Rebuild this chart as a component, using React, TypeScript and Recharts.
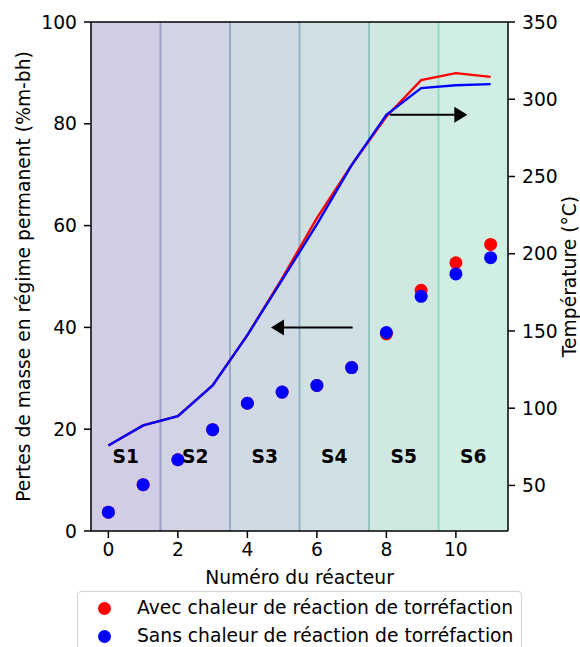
import React from "react";
import {
  ComposedChart,
  Line,
  Scatter,
  XAxis,
  YAxis,
  ReferenceArea,
  ReferenceLine,
  ReferenceDot,
} from "recharts";

// reactor numbers and measured values
const reactors = [0, 1, 2, 3, 4, 5, 6, 7, 8, 9, 10, 11];
const massWith = [3.7, 9.1, 14.0, 19.9, 25.1, 27.3, 28.6, 32.1, 38.7, 47.3, 52.7, 56.3];
const massWithout = [3.7, 9.1, 14.0, 19.9, 25.1, 27.3, 28.6, 32.1, 39.0, 46.1, 50.5, 53.7];
const tempWith = [75.9, 88.9, 94.9, 114.8, 147.3, 184, 223, 257.4, 288.8, 312.4, 316.9, 314.5];
const tempWithout = [75.9, 88.9, 94.9, 114.8, 147.3, 183, 219, 257.4, 289.9, 307.2, 309.1, 309.8];

const seriesNames = [
  "Avec chaleur de réaction de torréfaction",
  "Sans chaleur de réaction de torréfaction",
];
const seriesColors = ["#ff0000", "#0000ff"];

// stages (bands) along the reactor axis
const stageNames = ["S1", "S2", "S3", "S4", "S5", "S6"];
const stageEdges = [-0.5, 1.5, 3.5, 5.5, 7.5, 9.5, 11.5];
const stageFills = ["#d1cde4", "#d0d4e5", "#d0dae4", "#d0e1e3", "#d0e8e2", "#d0efe2"];
const stageEdgeColors = ["#9c9dc9", "#98a9c6", "#95b2c4", "#94c4c0", "#93d9c1"];
const stageLabelY = 14.65;

const xTicks = [0, 2, 4, 6, 8, 10];
const massTicks = [0, 20, 40, 60, 80, 100];
const tempTicks = [50, 100, 150, 200, 250, 300, 350];

// annotation arrows: [x start, x end, y]
const massArrow = [7.03, 4.68, 40];
const tempArrow = [8.1, 10.33, 290];

const data = reactors.map((r, i) => ({
  x: r,
  massWith: massWith[i],
  massWithout: massWithout[i],
  tempWith: tempWith[i],
  tempWithout: tempWithout[i],
}));

const FONT = "DejaVu Sans";
const FS = 18.7;

function Arrow(props: any) {
  const { x1, y1, x2, y2 } = props;
  const dir = x2 > x1 ? 1 : -1;
  const headLen = 13;
  const headHalf = 8;
  const bx = x2 - dir * headLen;
  return (
    <g>
      <line x1={x1} y1={y1} x2={bx} y2={y2} stroke="#000" strokeWidth={2} />
      <polygon
        points={`${x2},${y2} ${bx},${y2 - headHalf} ${bx},${y2 + headHalf}`}
        fill="#000"
      />
    </g>
  );
}

function LegendBox() {
  return (
    <div
      style={{
        position: "absolute",
        left: 77,
        top: 591,
        width: 443,
        border: "1px solid #d3d3d3",
        borderRadius: 4,
        background: "rgba(255,255,255,0.8)",
        paddingTop: 2,
        paddingBottom: 6,
        fontFamily: FONT,
        fontSize: FS,
        color: "#000",
      }}
    >
      {seriesNames.map((name, i) => (
        <div key={name} style={{ position: "relative", height: 28, lineHeight: "28px" }}>
          <span
            style={{
              position: "absolute",
              left: 20,
              top: 8,
              width: 13,
              height: 13,
              borderRadius: "50%",
              background: seriesColors[i],
            }}
          />
          <span style={{ position: "absolute", left: 59, whiteSpace: "nowrap" }}>{name}</span>
        </div>
      ))}
    </div>
  );
}

const dotShape = (color: string) => (props: any) =>
  <circle cx={props.cx} cy={props.cy} r={6.5} fill={color} />;

export default function App() {
  const tickStyle = { fontSize: FS, fill: "#000", fontFamily: FONT };
  return (
    <div
      style={{
        position: "absolute",
        left: 0,
        top: 0,
        width: 580,
        height: 647,
        overflow: "hidden",
        fontFamily: FONT,
      }}
    >
      <ComposedChart
        width={580}
        height={647}
        data={data}
        margin={{ top: 22, right: 0, bottom: 0, left: 0 }}
      >
        {stageNames.map((s, i) => (
          <ReferenceArea
            key={s}
            yAxisId="left"
            x1={stageEdges[i]}
            x2={stageEdges[i + 1]}
            y1={0}
            y2={100}
            fill={stageFills[i]}
            fillOpacity={1}
            stroke="none"
          />
        ))}
        {stageEdgeColors.map((c, i) => (
          <ReferenceLine
            key={"e" + i}
            yAxisId="left"
            x={stageEdges[i + 1]}
            stroke={c}
            strokeWidth={2}
          />
        ))}
        {stageNames.map((s, i) => (
          <ReferenceDot
            key={"l" + s}
            yAxisId="left"
            x={(stageEdges[i] + stageEdges[i + 1]) / 2}
            y={stageLabelY}
            r={1}
            fill="none"
            stroke="none"
            label={{
              value: s,
              position: "center",
              fontSize: FS,
              fontWeight: "bold",
              fill: "#000",
              fontFamily: FONT,
            }}
          />
        ))}
        <ReferenceLine yAxisId="left" y={100} stroke="#000" strokeWidth={1.5} />
        <XAxis
          dataKey="x"
          type="number"
          domain={[-0.5, 11.5]}
          ticks={xTicks}
          allowDataOverflow
          height={116}
          tickSize={7}
          tickMargin={5}
          tick={tickStyle}
          stroke="#000"
          strokeWidth={1.5}
          label={{
            value: "Numéro du réacteur",
            position: "insideTop",
            offset: 40,
            fontSize: FS,
            fill: "#000",
            fontFamily: FONT,
          }}
        />
        <YAxis
          yAxisId="left"
          orientation="left"
          domain={[0, 100]}
          ticks={massTicks}
          allowDataOverflow
          width={91}
          tickSize={7}
          tickMargin={7}
          tick={tickStyle}
          stroke="#000"
          strokeWidth={1.5}
          label={{
            value: "Pertes de masse en régime permanent (%m-bh)",
            angle: -90,
            position: "center",
            dx: -22,
            fontSize: FS,
            fill: "#000",
            fontFamily: FONT,
          }}
        />
        <YAxis
          yAxisId="right"
          orientation="right"
          domain={[20.5, 350]}
          ticks={tempTicks}
          allowDataOverflow
          width={72}
          tickSize={7}
          tickMargin={7}
          tick={tickStyle}
          stroke="#000"
          strokeWidth={1.5}
          label={{
            value: "Température (°C)",
            angle: -90,
            position: "center",
            dx: 25,
            fontSize: FS,
            fill: "#000",
            fontFamily: FONT,
          }}
        />
        <Line
          yAxisId="right"
          dataKey="tempWith"
          type="linear"
          stroke={seriesColors[0]}
          strokeWidth={2.4}
          dot={false}
          activeDot={false}
          isAnimationActive={false}
        />
        <Line
          yAxisId="right"
          dataKey="tempWithout"
          type="linear"
          stroke={seriesColors[1]}
          strokeWidth={2.4}
          dot={false}
          activeDot={false}
          isAnimationActive={false}
        />
        <Scatter
          yAxisId="left"
          dataKey="massWith"
          name={seriesNames[0]}
          fill={seriesColors[0]}
          shape={dotShape(seriesColors[0])}
          isAnimationActive={false}
        />
        <Scatter
          yAxisId="left"
          dataKey="massWithout"
          name={seriesNames[1]}
          fill={seriesColors[1]}
          shape={dotShape(seriesColors[1])}
          isAnimationActive={false}
        />
        <ReferenceLine
          yAxisId="left"
          segment={[
            { x: massArrow[0], y: massArrow[2] },
            { x: massArrow[1], y: massArrow[2] },
          ]}
          shape={Arrow}
        />
        <ReferenceLine
          yAxisId="right"
          segment={[
            { x: tempArrow[0], y: tempArrow[2] },
            { x: tempArrow[1], y: tempArrow[2] },
          ]}
          shape={Arrow}
        />
      </ComposedChart>
      <LegendBox />
    </div>
  );
}
